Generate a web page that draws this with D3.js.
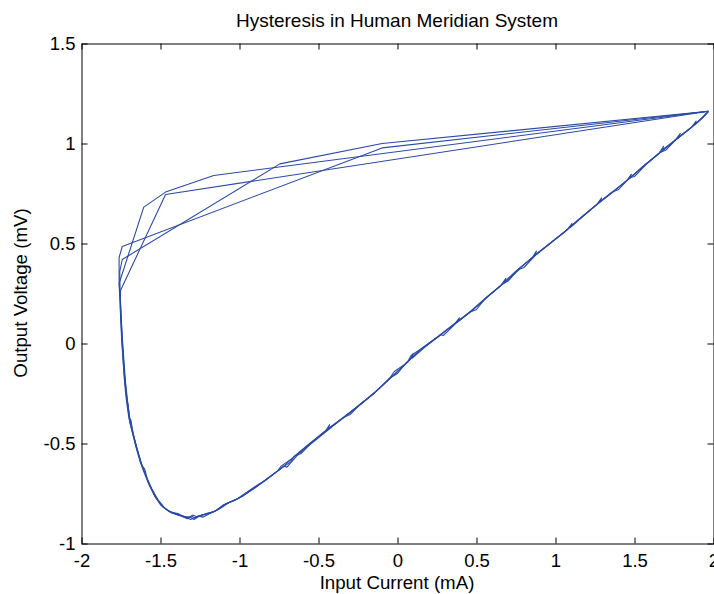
<!DOCTYPE html>
<html>
<head>
<meta charset="utf-8">
<script src="https://cdn.jsdelivr.net/npm/d3@7"></script>
<style>
  html, body { margin: 0; padding: 0; background: #fff; }
  svg { display: block; font-family: "Liberation Sans", Arial, Helvetica, sans-serif; }
</style>
</head>
<body>
<div id="chart"></div>
<script>
// axis ticks
const xTicks = [-2, -1.5, -1, -0.5, 0, 0.5, 1, 1.5, 2];
const xTickLabels = ['-2', '-1.5', '-1', '-0.5', '0', '0.5', '1', '1.5', '2'];
const yTicks = [-1, -0.5, 0, 0.5, 1, 1.5];
const yTickLabels = ['-1', '-0.5', '0', '0.5', '1', '1.5'];

// four recorded loops, [input current mA, output voltage mV]
const loop1 = [
  [1.968, 1.161], [-0.097, 1.000], [-0.745, 0.898], [-1.742, 0.420], [-1.758, 0.360], [-1.756, 0.262],
  [-1.750, 0.150], [-1.744, 0.040], [-1.736, -0.060], [-1.727, -0.160], [-1.716, -0.250], [-1.703, -0.340],
  [-1.694, -0.395], [-1.688, -0.380], [-1.672, -0.455], [-1.648, -0.530], [-1.622, -0.598], [-1.594, -0.658],
  [-1.562, -0.718], [-1.524, -0.776], [-1.482, -0.818], [-1.432, -0.846], [-1.374, -0.858], [-1.322, -0.872],
  [-1.296, -0.858], [-1.270, -0.866], [-1.218, -0.852], [-1.162, -0.842], [-1.104, -0.808], [-1.024, -0.782],
  [-0.934, -0.733], [-0.852, -0.692], [-0.760, -0.638], [-0.735, -0.612], [-0.662, -0.572], [-0.562, -0.506],
  [-0.462, -0.440], [-0.362, -0.384], [-0.252, -0.314], [-0.152, -0.252], [-0.050, -0.174], [-0.020, -0.140],
  [0.050, -0.102], [0.148, -0.028], [0.250, 0.030], [0.352, 0.092], [0.448, 0.150], [0.550, 0.221],
  [0.652, 0.288], [0.750, 0.362], [0.852, 0.428], [0.880, 0.462], [0.868, 0.440], [0.950, 0.492],
  [1.052, 0.553], [1.150, 0.622], [1.250, 0.688], [1.352, 0.752], [1.450, 0.813], [1.480, 0.846],
  [1.470, 0.826], [1.548, 0.882], [1.650, 0.948], [1.752, 1.012], [1.790, 1.050], [1.776, 1.028],
  [1.850, 1.074], [1.920, 1.121], [1.968, 1.161]
];
const loop2 = [
  [1.968, 1.161], [-0.097, 0.978], [-1.742, 0.485], [-1.762, 0.430], [-1.762, 0.310], [-1.755, 0.230],
  [-1.748, 0.120], [-1.740, 0.010], [-1.731, -0.090], [-1.722, -0.190], [-1.709, -0.285], [-1.697, -0.360],
  [-1.682, -0.420], [-1.664, -0.478], [-1.640, -0.548], [-1.616, -0.612], [-1.600, -0.628], [-1.584, -0.676],
  [-1.552, -0.732], [-1.512, -0.786], [-1.470, -0.826], [-1.418, -0.850], [-1.360, -0.866], [-1.330, -0.876],
  [-1.305, -0.862], [-1.282, -0.872], [-1.240, -0.858], [-1.190, -0.850], [-1.140, -0.832], [-1.082, -0.800],
  [-1.000, -0.772], [-0.912, -0.726], [-0.830, -0.678], [-0.742, -0.628], [-0.648, -0.562], [-0.610, -0.550],
  [-0.548, -0.498], [-0.448, -0.434], [-0.348, -0.372], [-0.300, -0.355], [-0.236, -0.304], [-0.136, -0.240],
  [-0.036, -0.166], [0.064, -0.092], [0.086, -0.060], [0.162, -0.020], [0.262, 0.038], [0.362, 0.098],
  [0.392, 0.128], [0.380, 0.108], [0.462, 0.160], [0.562, 0.230], [0.662, 0.296], [0.700, 0.312],
  [0.762, 0.368], [0.862, 0.436], [0.962, 0.498], [1.062, 0.562], [1.162, 0.630], [1.262, 0.696],
  [1.292, 0.728], [1.280, 0.708], [1.362, 0.758], [1.462, 0.822], [1.562, 0.890], [1.662, 0.955],
  [1.700, 0.968], [1.762, 1.020], [1.862, 1.082], [1.890, 1.112], [1.884, 1.094], [1.930, 1.130], [1.968, 1.161]
];
const loop3 = [
  [1.968, 1.161], [-1.163, 0.840], [-1.468, 0.757], [-1.606, 0.682], [-1.762, 0.300], [-1.757, 0.215],
  [-1.751, 0.110], [-1.746, 0.020], [-1.738, -0.070], [-1.730, -0.170], [-1.719, -0.262], [-1.708, -0.330],
  [-1.700, -0.372], [-1.680, -0.440], [-1.656, -0.515], [-1.630, -0.588], [-1.606, -0.640], [-1.576, -0.700],
  [-1.540, -0.758], [-1.498, -0.808], [-1.450, -0.838], [-1.392, -0.856], [-1.342, -0.866], [-1.310, -0.880],
  [-1.262, -0.862], [-1.230, -0.868], [-1.178, -0.846], [-1.126, -0.826], [-1.058, -0.792], [-0.976, -0.762],
  [-0.892, -0.716], [-0.808, -0.668], [-0.720, -0.614], [-0.700, -0.618], [-0.626, -0.552], [-0.526, -0.488],
  [-0.426, -0.424], [-0.326, -0.360], [-0.226, -0.300], [-0.126, -0.232], [-0.026, -0.160], [0.074, -0.086],
  [0.100, -0.050], [0.092, -0.074], [0.174, -0.018], [0.274, 0.044], [0.290, 0.040], [0.374, 0.104],
  [0.474, 0.166], [0.574, 0.236], [0.674, 0.302], [0.774, 0.372], [0.800, 0.380], [0.874, 0.442],
  [0.974, 0.506], [1.074, 0.568], [1.104, 0.600], [1.094, 0.580], [1.174, 0.636], [1.274, 0.702],
  [1.374, 0.764], [1.474, 0.830], [1.500, 0.835], [1.574, 0.896], [1.674, 0.962], [1.774, 1.026],
  [1.874, 1.090], [1.940, 1.136], [1.968, 1.161]
];
const loop4 = [
  [1.968, 1.161], [-1.468, 0.745], [-1.753, 0.265], [-1.754, 0.180],
  [-1.748, 0.080], [-1.742, -0.010], [-1.734, -0.110], [-1.724, -0.200], [-1.712, -0.290], [-1.700, -0.345],
  [-1.706, -0.300], [-1.692, -0.400], [-1.676, -0.448], [-1.652, -0.522], [-1.626, -0.594], [-1.598, -0.648],
  [-1.568, -0.710], [-1.532, -0.768], [-1.490, -0.814], [-1.440, -0.842], [-1.384, -0.852], [-1.350, -0.868],
  [-1.316, -0.866], [-1.288, -0.880], [-1.250, -0.862], [-1.204, -0.850], [-1.150, -0.836], [-1.092, -0.804],
  [-1.012, -0.776], [-0.924, -0.728], [-0.840, -0.686], [-0.750, -0.632], [-0.676, -0.592], [-0.656, -0.566],
  [-0.556, -0.500], [-0.456, -0.438], [-0.430, -0.406], [-0.440, -0.426], [-0.356, -0.378], [-0.244, -0.310],
  [-0.144, -0.246], [-0.044, -0.170], [0.000, -0.150], [0.056, -0.096], [0.156, -0.024], [0.256, 0.034],
  [0.356, 0.096], [0.456, 0.156], [0.500, 0.170], [0.556, 0.226], [0.656, 0.292], [0.686, 0.326],
  [0.676, 0.306], [0.756, 0.366], [0.856, 0.432], [0.956, 0.494], [1.056, 0.558], [1.156, 0.626],
  [1.256, 0.692], [1.356, 0.756], [1.400, 0.770], [1.456, 0.818], [1.556, 0.886], [1.656, 0.952],
  [1.684, 0.986], [1.674, 0.966], [1.756, 1.016], [1.856, 1.078], [1.924, 1.126], [1.968, 1.161]
];
const loops = [loop1, loop2, loop3, loop4];

const width = 714;
const height = 594;
const margin = { top: 43, right: 1, bottom: 51, left: 81 };
const innerW = width - margin.left - margin.right;
const innerH = height - margin.top - margin.bottom;

const svg = d3.select('#chart')
  .append('svg')
  .attr('width', width)
  .attr('height', height);

svg.append('rect')
  .attr('width', width)
  .attr('height', height)
  .attr('fill', '#fff');

const g = svg.append('g')
  .attr('transform', `translate(${margin.left + 0.5},${margin.top + 0.5})`);

const x = d3.scaleLinear().domain([-2, 2]).range([0, innerW]);
const y = d3.scaleLinear().domain([-1, 1.5]).range([innerH, 0]);

// MATLAB style box with inward ticks
const styleAxis = sel => {
  sel.selectAll('path.domain').attr('stroke', '#000').attr('stroke-width', 1);
  sel.selectAll('.tick line').attr('stroke', '#000').attr('stroke-width', 1);
  sel.selectAll('.tick text')
    .attr('fill', '#000')
    .style('font-size', '18.5px')
    .style('font-family', '"Liberation Sans", Arial, Helvetica, sans-serif');
};

g.append('g')
  .attr('transform', `translate(0,${innerH})`)
  .call(d3.axisBottom(x).tickValues(xTicks)
    .tickFormat((d, i) => xTickLabels[i])
    .tickSizeInner(-6).tickSizeOuter(0).tickPadding(10))
  .call(styleAxis);

g.append('g')
  .call(d3.axisTop(x).tickValues(xTicks).tickFormat('')
    .tickSizeInner(-6).tickSizeOuter(0))
  .call(styleAxis);

g.append('g')
  .call(d3.axisLeft(y).tickValues(yTicks)
    .tickFormat((d, i) => yTickLabels[i])
    .tickSizeInner(-6).tickSizeOuter(0).tickPadding(6))
  .call(styleAxis);

g.append('g')
  .attr('transform', `translate(${innerW},0)`)
  .call(d3.axisRight(y).tickValues(yTicks).tickFormat('')
    .tickSizeInner(-6).tickSizeOuter(0))
  .call(styleAxis);

// hysteresis loops
const line = d3.line()
  .x(d => x(d[0]))
  .y(d => y(d[1]));

g.append('g')
  .selectAll('path')
  .data(loops)
  .enter()
  .append('path')
  .attr('d', line)
  .attr('fill', 'none')
  .attr('stroke', '#2a4aa6')
  .attr('stroke-width', 1.1)
  .attr('stroke-linejoin', 'round');

// title and axis labels
svg.append('text')
  .attr('x', margin.left + innerW / 2)
  .attr('y', 27)
  .attr('text-anchor', 'middle')
  .style('font-size', '19px')
  .attr('fill', '#000')
  .text('Hysteresis in Human Meridian System');

svg.append('text')
  .attr('x', margin.left + innerW / 2)
  .attr('y', 589)
  .attr('text-anchor', 'middle')
  .style('font-size', '18.7px')
  .attr('fill', '#000')
  .text('Input Current (mA)');

svg.append('text')
  .attr('transform', `translate(27,${margin.top + innerH / 2}) rotate(-90)`)
  .attr('text-anchor', 'middle')
  .style('font-size', '18.7px')
  .attr('fill', '#000')
  .text('Output Voltage (mV)');
</script>
</body>
</html>
